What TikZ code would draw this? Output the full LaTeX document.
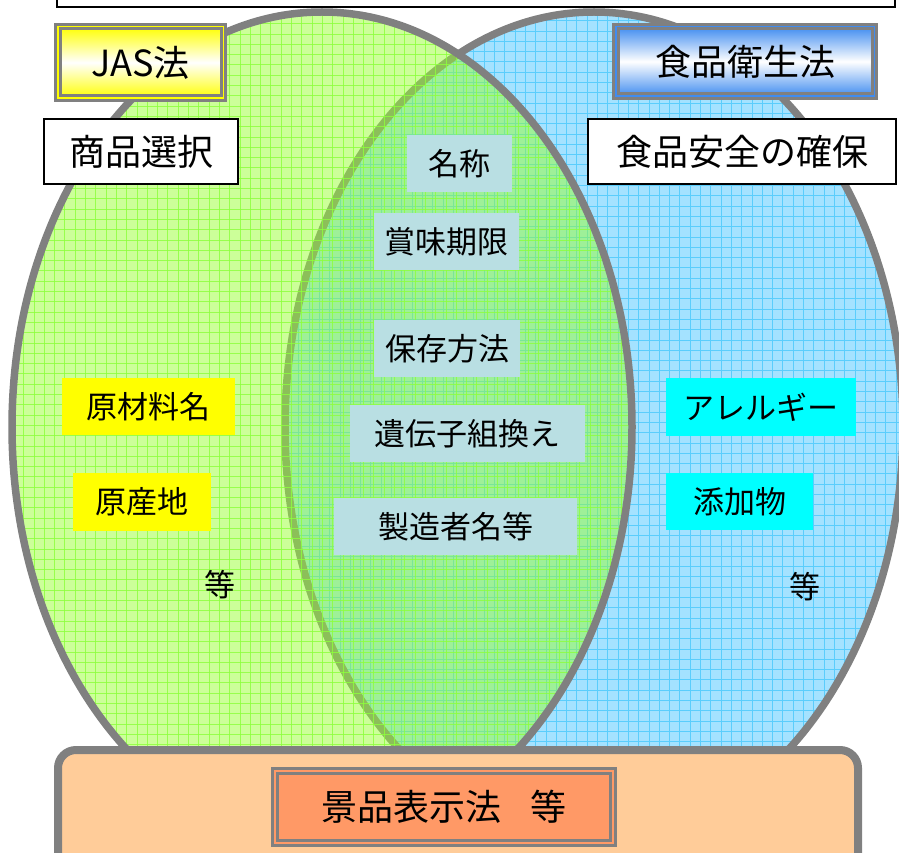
\documentclass[tikz,border=0pt]{standalone}
\usepackage{fontspec}
\setmainfont{Noto Sans CJK JP}
\definecolor{edgegray}{RGB}{128,128,128}
\definecolor{leftfill}{RGB}{153,255,51}
\definecolor{leftgrid}{RGB}{140,255,60}
\definecolor{rightfill}{RGB}{164,226,255}
\definecolor{rightgrid}{RGB}{90,205,252}
\definecolor{itemblue}{RGB}{185,223,227}
\definecolor{jasyellow}{RGB}{255,255,0}
\definecolor{purecyan}{RGB}{0,255,255}
\definecolor{foodblue}{RGB}{64,140,240}
\definecolor{basefill}{RGB}{255,204,153}
\definecolor{lawfill}{RGB}{255,153,102}
\begin{document}
\begin{tikzpicture}[x=1pt,y=-1pt,
  ellline/.style={line width=7.5pt, draw=edgegray},
  headbox/.style={draw=black, line width=2pt, fill=white, inner sep=0pt, outer sep=0pt,
    font=\fontsize{36}{40}\selectfont},
  itembox/.style={fill=itemblue, inner sep=0pt, outer sep=0pt, font=\fontsize{31}{36}\selectfont},
  yelbox/.style={fill=jasyellow, inner sep=0pt, outer sep=0pt, font=\fontsize{31}{36}\selectfont},
  cyanbox/.style={fill=purecyan, inner sep=0pt, outer sep=0pt, font=\fontsize{31}{36}\selectfont},
  plain/.style={inner sep=0pt, font=\fontsize{31}{36}\selectfont},
  framebox/.style={draw=edgegray, line width=3pt, double distance=1.5pt, inner sep=0pt, outer sep=0pt,
    font=\fontsize{36}{40}\selectfont},
  rgridline/.style={rightgrid, line width=0.7pt},
  lgridline/.style={leftgrid, line width=0.7pt, opacity=0.8},
]
\useasboundingbox (0,0) rectangle (899,853);
% top white box
\node[draw=black, line width=1.5pt, fill=white, minimum width=838pt, minimum height=27pt, inner sep=0pt] (topbox) at (476,-6.5) {};
% right ellipse
\fill[rightfill] (594,427) ellipse [x radius=309, y radius=415];
\begin{scope}
  \clip (594,427) ellipse [x radius=309, y radius=415];
  \foreach \i in {0,...,88} { \draw[rgridline] ({\i*10.3},0) -- ({\i*10.3},853); }
  \foreach \i in {0,...,83} { \draw[rgridline] (0,{\i*10.3}) -- (899,{\i*10.3}); }
\end{scope}
\draw[ellline] (594,427) ellipse [x radius=309, y radius=415];
% left ellipse
\fill[leftfill, fill opacity=0.5] (322,427) ellipse [x radius=310, y radius=415];
\begin{scope}
  \clip (322,427) ellipse [x radius=310, y radius=415];
  \foreach \i in {0,...,88} { \draw[lgridline] ({\i*10.3+3},0) -- ({\i*10.3+3},853); }
  \foreach \i in {0,...,83} { \draw[lgridline] (0,{\i*10.3+3}) -- (899,{\i*10.3+3}); }
\end{scope}
\draw[ellline] (322,427) ellipse [x radius=310, y radius=415];
% bottom base
\node[draw=edgegray, line width=8pt, fill=basefill, rounded corners=18pt, minimum width=800pt, minimum height=150pt, inner sep=0pt, outer sep=0pt] (base) at (458,825) {};
\node[framebox, double=lawfill, fill=lawfill, minimum width=338pt, minimum height=72pt] (law) at (444,807) {景品表示法\hspace{0.8em}等};
% law boxes
\node[framebox, double=jasyellow, top color=jasyellow, bottom color=jasyellow, middle color=white, minimum width=165.5pt, minimum height=71.5pt] (jas) at (140.5,62.5) {JAS法};
\node[framebox, double=foodblue, top color=foodblue, bottom color=foodblue, middle color=white, minimum width=258.5pt, minimum height=69.5pt] (food) at (745,61.5) {食品衛生法};
% purpose boxes
\node[headbox, minimum width=194pt, minimum height=65pt] (choice) at (141,151.5) {商品選択};
\node[headbox, minimum width=308pt, minimum height=65pt] (safety) at (742,151.5) {食品安全の確保};
% common items
\node[itembox, minimum width=105pt, minimum height=57pt] (name) at (459.5,163.5) {名称};
\node[itembox, minimum width=145pt, minimum height=57pt] (expiry) at (446.5,241.5) {賞味期限};
\node[itembox, minimum width=146pt, minimum height=57pt] (storage) at (447,348.5) {保存方法};
\node[itembox, minimum width=235pt, minimum height=57pt] (gmo) at (467.5,433.5) {遺伝子組換え};
\node[itembox, minimum width=243pt, minimum height=57pt] (maker) at (455.5,526.5) {製造者名等};
% left items
\node[yelbox, minimum width=173pt, minimum height=57pt] (raw) at (148.5,406.5) {原材料名};
\node[yelbox, minimum width=138pt, minimum height=58pt] (origin) at (142,502) {原産地};
\node[plain] (etcl) at (220,585) {等};
% right items
\node[cyanbox, minimum width=190pt, minimum height=58pt] (allergy) at (761,407) {アレルギー};
\node[cyanbox, minimum width=147pt, minimum height=57pt] (additive) at (739.5,501.5) {添加物};
\node[plain] (etcr) at (805,587) {等};
\end{tikzpicture}
\end{document}
